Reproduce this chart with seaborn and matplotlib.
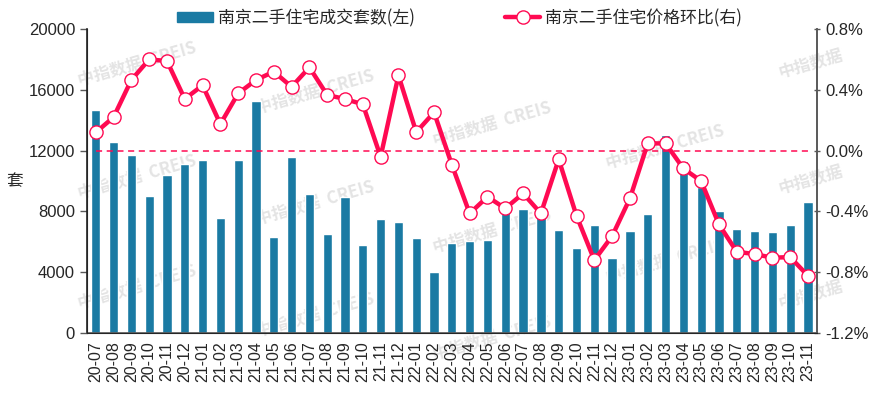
import numpy as np
import pandas as pd
import matplotlib
matplotlib.use("Agg")
import matplotlib.pyplot as plt
import seaborn as sns

# ── Data ────────────────────────────────────────────────
months = ["20-07", "20-08", "20-09", "20-10", "20-11", "20-12",
          "21-01", "21-02", "21-03", "21-04", "21-05", "21-06",
          "21-07", "21-08", "21-09", "21-10", "21-11", "21-12",
          "22-01", "22-02", "22-03", "22-04", "22-05", "22-06",
          "22-07", "22-08", "22-09", "22-10", "22-11", "22-12",
          "23-01", "23-02", "23-03", "23-04", "23-05", "23-06",
          "23-07", "23-08", "23-09", "23-10", "23-11"]
deals = [14700, 12600, 11700, 9000, 10400, 11150,
         11400, 7600, 11400, 15300, 6350, 11600,
         9120, 6550, 8950, 5800, 7500, 7300,
         6250, 4050, 5950, 6050, 6120, 7950,
         8160, 7750, 6780, 5570, 7080, 4910,
         6690, 7830, 13000, 11300, 9600, 8050,
         6820, 6690, 6650, 7100, 8620]
mom = [0.12, 0.22, 0.465, 0.60, 0.59, 0.34,
       0.43, 0.175, 0.377, 0.465, 0.52, 0.42,
       0.548, 0.366, 0.34, 0.305, -0.04, 0.495,
       0.122, 0.252, -0.093, -0.413, -0.303, -0.38,
       -0.281, -0.413, -0.057, -0.428, -0.72, -0.562,
       -0.314, 0.048, 0.048, -0.117, -0.20, -0.485,
       -0.665, -0.68, -0.704, -0.70, -0.823]

bar_label = "南京二手住宅成交套数(左)"
line_label = "南京二手住宅价格环比(右)"

BAR_CLR = "#1a7aa3"
LINE_CLR = "#ff0a52"
AX_CLR = "#595959"
CJK = ["Noto Sans CJK SC", "DejaVu Sans"]

df = pd.DataFrame({"month": months, "deals": deals, "mom": mom})
df["pos"] = np.arange(len(df))

# ── Style ────────────────────────────────────────────────
sns.set_style("white")
plt.rcParams["font.family"] = ["Liberation Sans", "Noto Sans CJK SC", "DejaVu Sans"]
plt.rcParams["axes.unicode_minus"] = False

fig = plt.figure(figsize=(8.86, 3.98), dpi=100)
ax = fig.add_axes([0.098, 0.163, 0.824, 0.764])
ax.patch.set_visible(False)

# watermark
wm_pos = [(0.155, 0.84), (0.355, 0.77), (0.555, 0.69), (0.75, 0.63),
          (0.155, 0.555), (0.355, 0.49), (0.555, 0.42), (0.75, 0.345),
          (0.155, 0.28), (0.355, 0.21), (0.555, 0.15)]
for x, y in wm_pos:
    fig.text(x, y, "中指数据  CREIS", fontsize=12, fontweight="bold",
             color="#e4e4e4", rotation=16, ha="center", va="center",
             family=CJK, zorder=-1)
for y in [0.84, 0.55, 0.26]:
    fig.text(0.915, y, "中指数据", fontsize=12, fontweight="bold",
             color="#e4e4e4", rotation=16, ha="center", va="center",
             family=CJK, zorder=-1)

# ── Bars (left axis) ──────────────────────────────────────
sns.barplot(data=df, x="month", y="deals", ax=ax, color=BAR_CLR,
            width=0.52, saturation=1, label=bar_label, legend=False)
ax.set_xlim(-0.5, len(months) - 0.5)
ax.set_ylim(0, 20000)
ax.set_yticks(np.arange(0, 20001, 4000))
ax.set_xlabel("")
ax.set_ylabel("套", rotation=0, fontsize=12, family=CJK)
ax.yaxis.set_label_coords(-0.099, 0.47)
ax.tick_params(axis="x", which="major", length=0, labelrotation=90,
               labelsize=11.5, pad=6)
ax.set_xticks(np.arange(len(months)) + 0.5, minor=True)
ax.tick_params(axis="x", which="minor", length=6, width=1.2,
               color=AX_CLR, direction="inout")
ax.tick_params(axis="y", length=5, width=1, color=AX_CLR, labelsize=12,
               left=True, direction="out")
ax.spines["top"].set_visible(False)
for s in ["left", "bottom", "right"]:
    ax.spines[s].set_color(AX_CLR)
    ax.spines[s].set_linewidth(1.2)
ax.spines["left"].set_color("#222222")

# ── Line (right axis) ───────────────────────────────────
ax2 = ax.twinx()
ax2.hlines(0, df["pos"].iloc[0], df["pos"].iloc[-1], colors=LINE_CLR,
           linestyles=(0, (4, 3)), linewidth=1.1, zorder=1)
sns.lineplot(data=df, x="pos", y="mom", ax=ax2, color=LINE_CLR,
             linewidth=3.2, marker="o", markersize=9.5,
             markerfacecolor="white", markeredgecolor=LINE_CLR,
             markeredgewidth=1.0, label=line_label, legend=False, zorder=3)
ax2.set_ylim(-1.2, 0.8)
yt = np.arange(-1.2, 0.81, 0.4)
ax2.set_yticks(yt)
ax2.set_yticklabels([f"{v:.1f}%" for v in yt])
ax2.set_xlim(-0.5, len(months) - 0.5)
ax2.set_ylabel("")
ax2.set_xlabel("")
ax2.tick_params(axis="y", length=5, width=1, color=AX_CLR, labelsize=12,
                right=True, direction="inout")
ax2.spines["top"].set_visible(False)
ax2.spines["right"].set_color(AX_CLR)
ax2.spines["right"].set_linewidth(1.2)

# ── Legend ──────────────────────────────────────────────
h1 = plt.Rectangle((0, 0), 1, 1, color=BAR_CLR)
h2 = ax2.get_lines()[-1]
fig.legend([h1, h2], [bar_label, line_label], loc="center",
           bbox_to_anchor=(0.519, 0.955), ncol=2, frameon=False,
           prop={"family": CJK, "size": 12.2},
           handlelength=2.1, handleheight=0.6, columnspacing=5.3,
           handletextpad=0.3, borderaxespad=0)

fig.savefig("out.png", dpi=100)
